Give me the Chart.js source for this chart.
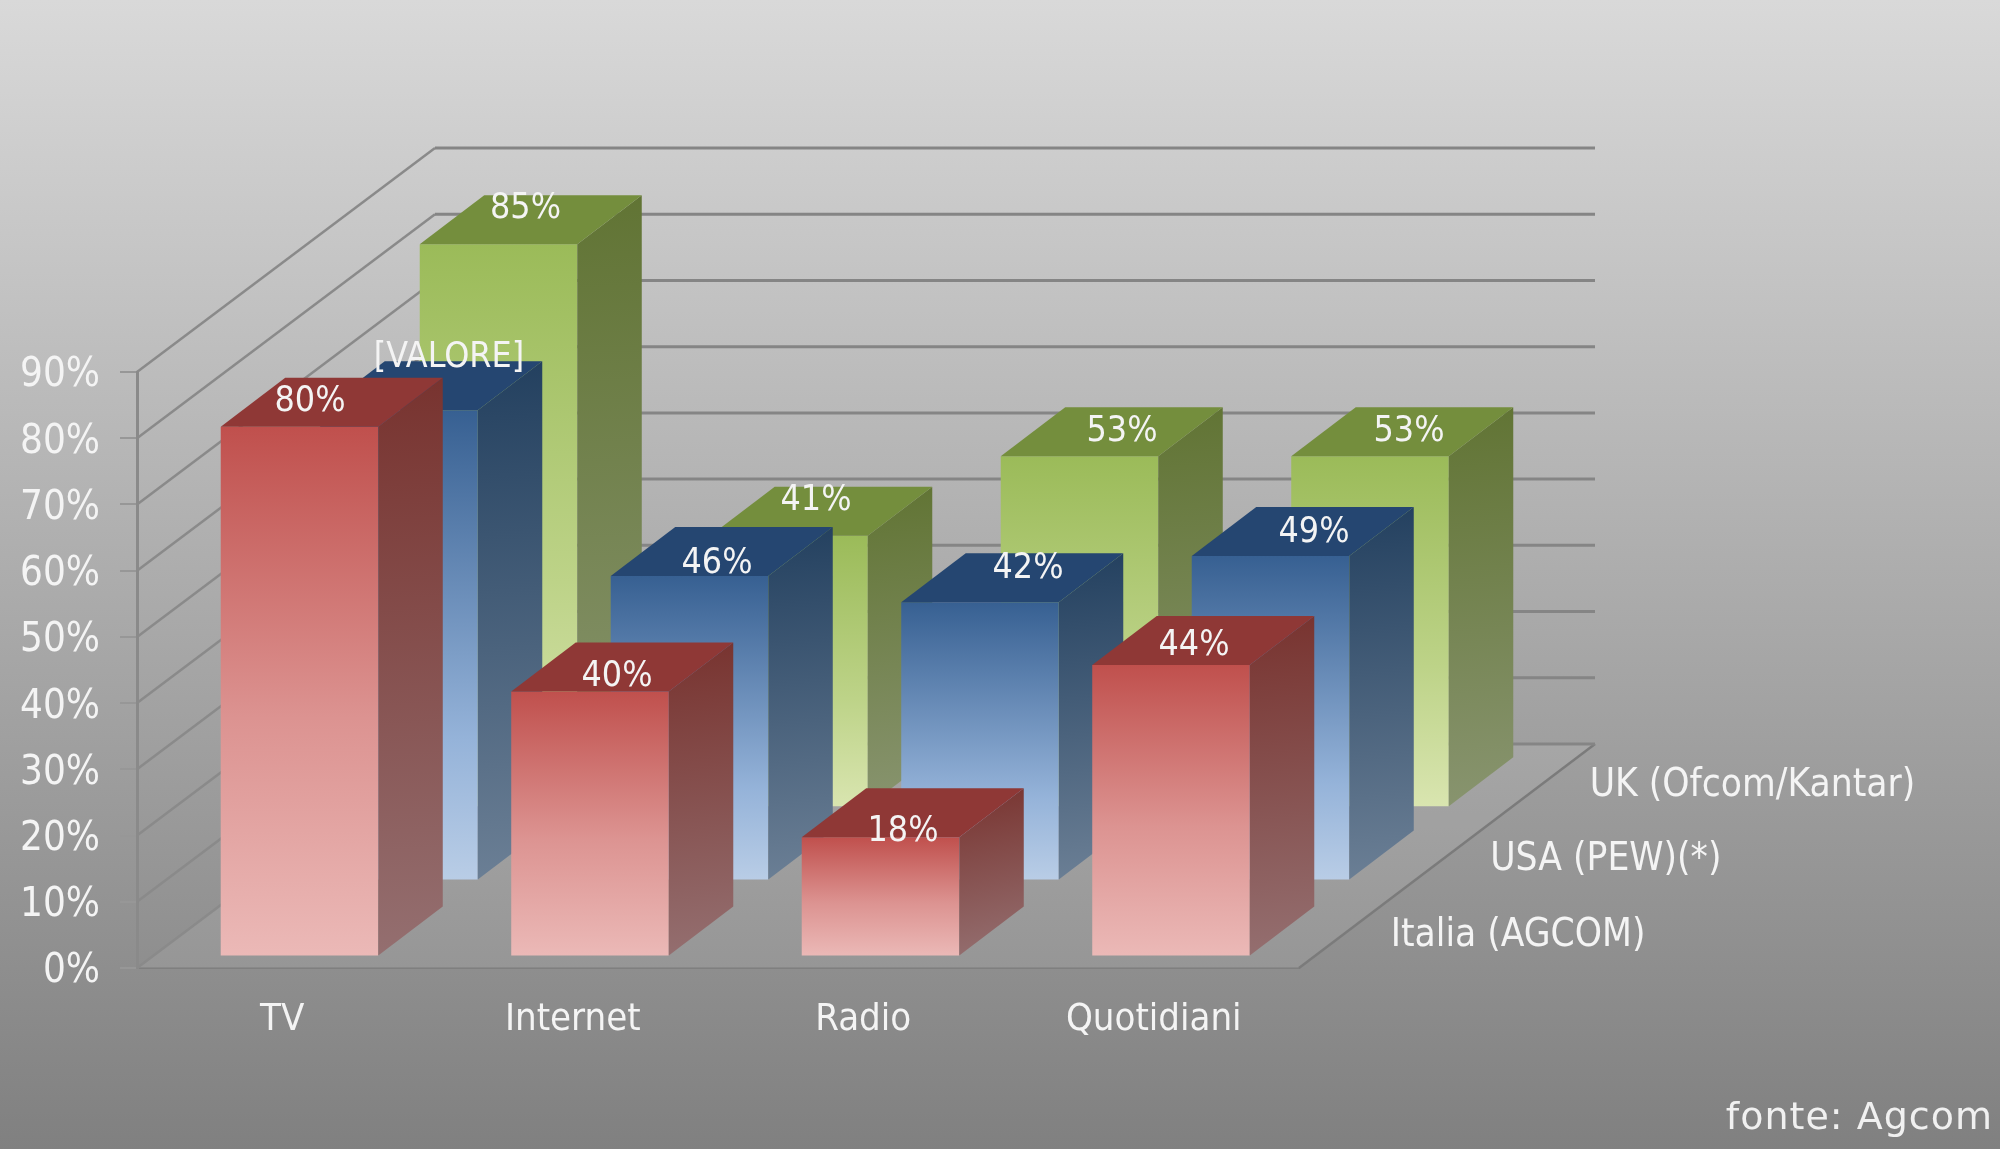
<!DOCTYPE html>
<html><head><meta charset="utf-8">
<style>html,body{margin:0;padding:0;background:#999}canvas{display:block}</style>
<script src="https://cdn.jsdelivr.net/npm/chart.js@4"></script>
</head><body><canvas id="c" width="2000" height="1149"></canvas>
<script>
const categories = ['TV','Internet','Radio','Quotidiani'];
const seriesNames = ['Italia (AGCOM)','USA (PEW)(*)','UK (Ofcom/Kantar)'];
const italia = [80,40,18,44];
const usa = [71,46,42,49];
const uk = [85,41,53,53];
const italiaLabels = ['80%','40%','18%','44%'];
const usaLabels = ['[VALORE]','46%','42%','49%'];
const ukLabels = ['85%','41%','53%','53%'];
const yTickLabelSuffix = '%';

const UI = 'Tahoma, "DejaVu Sans Condensed", "DejaVu Sans"';
const TEXT = '#f4f4f4';
const WALL = {dx:298, dy:224};
const BAR = {dx:64.5, dy:49};
const SERIES_SHIFT = [{dx:17.25,dy:11.5},{dx:116.75,dy:87.5},{dx:216.25,dy:160.8}];
const NUDGE = [
  [[10.5,-3],[27,7],[22.5,15.5],[23,2.5]],
  [[50,-31],[27.5,9],[48,-12.5],[43.5,-2]],
  [[27,-14.5],[27,-13.5],[42.5,-3],[39,-3]]
];
const LOOK = [
 {front:[[0,'#c0504d'],[.55,'#dc9391'],[1,'#ebb9b7']], side:['#78332f','#946f70'], top:'#8f3836'},
 {front:[[0,'#376092'],[.7,'#95b3d9'],[1,'#b9cde6']], side:['#23405f','#6b7f95'], top:'#254671'},
 {front:[[0,'#9bbb59'],[.6,'#bdd388'],[1,'#d9e5b0']], side:['#617434','#88946f'], top:'#748e3d'}
];

const bar3d = {
  id:'bar3d',
  beforeDraw(chart){
    const {ctx,width,height}=chart;
    const g=ctx.createLinearGradient(0,0,0,height);
    g.addColorStop(0,'#d9d9d9');g.addColorStop(1,'#808080');
    ctx.save();ctx.fillStyle=g;ctx.fillRect(0,0,width,height);ctx.restore();
  },
  afterDatasetUpdate(chart,args){
    const s=SERIES_SHIFT[args.index];
    for(const el of args.meta.data){el.x+=s.dx;el.y-=s.dy;el.base-=s.dy;}
  },
  beforeDatasetsDraw(chart){
    const {ctx,chartArea:a,scales:{y}}=chart;
    const y0=y.getPixelForValue(0);
    ctx.save();
    ctx.fillStyle='rgba(255,255,255,0.08)';
    ctx.beginPath();ctx.moveTo(a.left,y0);ctx.lineTo(a.right,y0);
    ctx.lineTo(a.right+WALL.dx-2,y0-WALL.dy);ctx.lineTo(a.left+WALL.dx,y0-WALL.dy);ctx.closePath();ctx.fill();
    ctx.strokeStyle='#7b7b7b';ctx.lineWidth=2.5;
    ctx.beginPath();ctx.moveTo(a.right,y0);ctx.lineTo(a.right+WALL.dx-2,y0-WALL.dy);ctx.stroke();
    for(const t of y.ticks){
      const py=y.getPixelForValue(t.value);
      ctx.strokeStyle='#8a8a8a';ctx.lineWidth=2.5;
      ctx.beginPath();ctx.moveTo(a.left,py);ctx.lineTo(a.left+WALL.dx,py-WALL.dy);ctx.stroke();
      ctx.strokeStyle='#858585';ctx.lineWidth=3;
      ctx.beginPath();ctx.moveTo(a.left+WALL.dx,py-WALL.dy);ctx.lineTo(a.right+WALL.dx-2,py-WALL.dy);ctx.stroke();
    }
    ctx.restore();
  },
  afterDatasetDraw(chart,args){
    const {ctx}=chart, look=LOOK[args.index];
    ctx.save();
    for(const el of args.meta.data){
      const r=el.x+el.width/2,l=el.x-el.width/2,t=el.y,b=el.base;
      const sg=ctx.createLinearGradient(r,t-BAR.dy,r+BAR.dx*0.6,b);
      sg.addColorStop(0,look.side[0]);sg.addColorStop(1,look.side[1]);
      ctx.fillStyle=sg;
      ctx.beginPath();ctx.moveTo(r,t);ctx.lineTo(r+BAR.dx,t-BAR.dy);ctx.lineTo(r+BAR.dx,b-BAR.dy);ctx.lineTo(r,b);ctx.closePath();ctx.fill();
      ctx.fillStyle=look.top;
      ctx.beginPath();ctx.moveTo(l,t);ctx.lineTo(l+BAR.dx,t-BAR.dy);ctx.lineTo(r+BAR.dx,t-BAR.dy);ctx.lineTo(r,t);ctx.closePath();ctx.fill();
    }
    ctx.restore();
  },
  afterDatasetsDraw(chart){
    const {ctx,chartArea:a}=chart;
    const labelSets=[italiaLabels,usaLabels,ukLabels];
    ctx.save();
    ctx.fillStyle=TEXT;ctx.textBaseline='middle';
    ctx.font='35.5px '+UI;ctx.textAlign='center';
    chart.data.datasets.forEach((d,i)=>{
      chart.getDatasetMeta(i).data.forEach((el,j)=>{
        const n=NUDGE[i][j];
        ctx.fillText(labelSets[i][j],el.x+n[0],el.y-BAR.dy/2+n[1]+3);
      });
    });
    ctx.font='38.5px '+UI;ctx.textAlign='left';
    seriesNames.forEach((name,i)=>{
      const s=SERIES_SHIFT[i];
      ctx.fillText(name,a.right+s.dx+74.5,chart.scales.y.getPixelForValue(0)-s.dy-21);
    });
    ctx.font='38px "DejaVu Sans"';ctx.textAlign='right';ctx.fillStyle='#f0f0f0';
    ctx.letterSpacing='1px';
    ctx.fillText('fonte: Agcom',1993,1119);
    ctx.restore();
  }
};

function frontFill(i,values){
  return (c)=>{
    const fallback=LOOK[i].front[0][1];
    if(c.type!=='data') return fallback;
    const y=c.chart.scales.y, s=SERIES_SHIFT[i];
    const y1=y.getPixelForValue(values[c.dataIndex])-s.dy, y2=y.getPixelForValue(0)-s.dy;
    if(!isFinite(y1)||!isFinite(y2)) return fallback;
    const g=c.chart.ctx.createLinearGradient(0,y1,0,y2);
    LOOK[i].front.forEach(st=>g.addColorStop(st[0],st[1]));
    return g;
  };
}

const seriesValues=[italia,usa,uk];
new Chart(document.getElementById('c'),{
  type:'bar',
  data:{labels:categories,datasets:seriesValues.map((v,i)=>({
    label:seriesNames[i],data:v,backgroundColor:frontFill(i,v),borderWidth:0,clip:false
  }))},
  plugins:[bar3d],
  options:{
    responsive:false,animation:false,devicePixelRatio:1,
    grouped:false,categoryPercentage:1,barPercentage:0.5423,
    layout:{padding:{left:17,right:701,top:372,bottom:0}},
    plugins:{legend:{display:false},tooltip:{enabled:false},title:{display:false}},
    scales:{
      x:{
        grid:{display:false,drawTicks:false},
        border:{display:true,color:'#7f7f7f',width:2},
        afterFit(s){s.height=181;},
        ticks:{color:TEXT,font:{family:UI,size:38},padding:29,maxRotation:0,autoSkip:false}
      },
      y:{
        min:0,max:90,
        afterFit(s){s.width=120;},
        grid:{drawOnChartArea:false,drawTicks:true,tickLength:17,tickColor:'#979797',lineWidth:2},
        border:{display:true,color:'#8a8a8a',width:3},
        ticks:{stepSize:10,color:TEXT,padding:20,labelOffset:4,font:{family:UI,size:40},callback:v=>v+yTickLabelSuffix}
      }
    }
  }
});
</script></body></html>
